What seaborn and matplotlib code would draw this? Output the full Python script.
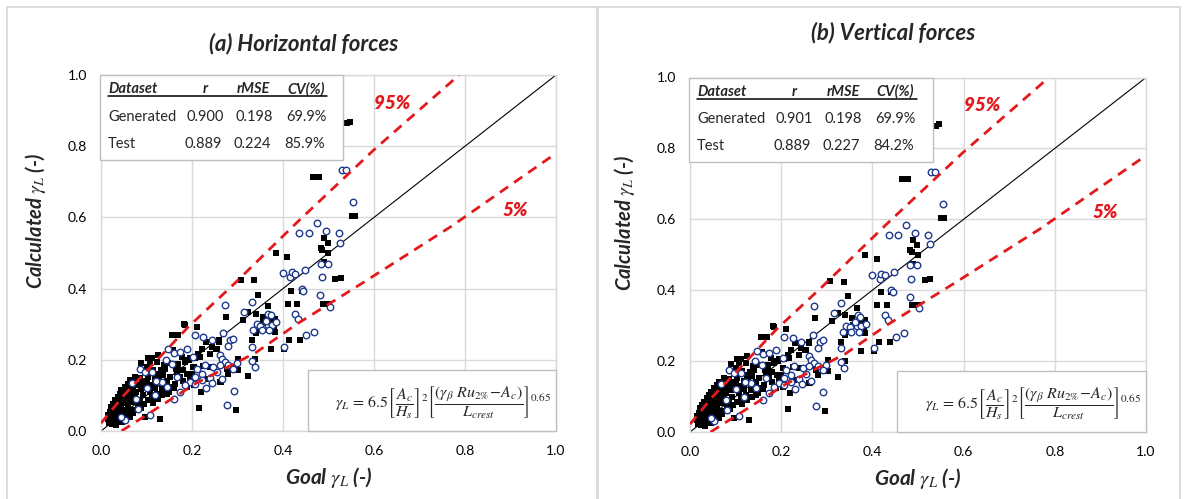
import matplotlib
matplotlib.use("Agg")
import matplotlib.pyplot as plt
from matplotlib.patches import Rectangle
import seaborn as sns

# ---------------------------------------------------------------------------
# Data: goal vs. calculated gamma_L
# ---------------------------------------------------------------------------
gen_points = [
    (0.540, 0.864), (0.547, 0.869), (0.466, 0.714), (0.479, 0.714),
    (0.551, 0.604), (0.558, 0.604), (0.384, 0.500), (0.409, 0.489),
    (0.490, 0.541), (0.498, 0.527), (0.483, 0.513), (0.486, 0.508),
    (0.499, 0.499), (0.490, 0.475), (0.515, 0.428), (0.527, 0.431),
    (0.307, 0.425), (0.337, 0.424), (0.346, 0.383), (0.410, 0.358),
    (0.431, 0.358), (0.487, 0.358), (0.501, 0.358), (0.418, 0.394),
    (0.441, 0.394), (0.274, 0.321), (0.312, 0.313), (0.324, 0.335),
    (0.341, 0.330), (0.356, 0.321), (0.366, 0.351), (0.372, 0.311),
    (0.383, 0.316), (0.357, 0.302), (0.381, 0.292), (0.350, 0.285),
    (0.383, 0.278), (0.341, 0.274), (0.331, 0.255), (0.374, 0.229),
    (0.414, 0.255), (0.438, 0.255), (0.403, 0.229), (0.185, 0.297),
    (0.210, 0.291), (0.155, 0.269), (0.169, 0.269), (0.221, 0.231),
    (0.231, 0.250), (0.243, 0.236), (0.254, 0.231), (0.260, 0.255),
    (0.214, 0.217), (0.196, 0.206), (0.207, 0.206), (0.185, 0.199),
    (0.203, 0.180), (0.240, 0.180), (0.276, 0.180), (0.302, 0.203),
    (0.302, 0.171), (0.324, 0.154), (0.280, 0.161), (0.263, 0.138),
    (0.203, 0.142), (0.216, 0.065), (0.297, 0.060), (0.229, 0.147),
    (0.188, 0.124), (0.295, 0.180), (0.339, 0.201), (0.220, 0.110),
    (0.158, 0.227), (0.240, 0.217), (0.252, 0.231), (0.260, 0.250),
    (0.103, 0.206), (0.111, 0.206), (0.177, 0.208), (0.218, 0.208),
    (0.089, 0.191), (0.122, 0.194), (0.185, 0.194), (0.194, 0.199),
    (0.170, 0.189), (0.205, 0.180), (0.225, 0.182), (0.265, 0.185),
    (0.276, 0.175), (0.170, 0.180), (0.141, 0.175), (0.115, 0.171),
    (0.166, 0.166), (0.137, 0.157), (0.126, 0.161), (0.075, 0.152),
    (0.064, 0.142), (0.199, 0.161), (0.174, 0.152), (0.152, 0.152),
    (0.104, 0.152), (0.207, 0.142), (0.205, 0.128), (0.262, 0.138),
    (0.082, 0.128), (0.060, 0.133), (0.053, 0.124), (0.108, 0.110),
    (0.122, 0.105), (0.133, 0.119), (0.144, 0.105), (0.163, 0.133),
    (0.152, 0.124), (0.097, 0.138), (0.071, 0.124), (0.089, 0.119),
    (0.045, 0.114), (0.042, 0.105), (0.038, 0.096), (0.060, 0.100),
    (0.075, 0.096), (0.086, 0.086), (0.104, 0.086), (0.111, 0.096),
    (0.031, 0.086), (0.051, 0.082), (0.067, 0.082), (0.027, 0.077),
    (0.023, 0.067), (0.034, 0.063), (0.045, 0.072), (0.060, 0.067),
    (0.020, 0.053), (0.042, 0.053), (0.031, 0.049), (0.016, 0.044),
    (0.016, 0.035), (0.020, 0.030), (0.027, 0.025), (0.034, 0.030),
    (0.023, 0.037), (0.038, 0.039), (0.049, 0.035), (0.097, 0.039),
    (0.130, 0.035), (0.030, 0.058), (0.028, 0.040), (0.036, 0.072),
    (0.048, 0.090), (0.055, 0.110), (0.065, 0.115), (0.078, 0.110),
    (0.092, 0.100), (0.118, 0.120), (0.128, 0.140), (0.145, 0.140),
    (0.058, 0.078), (0.070, 0.105), (0.082, 0.070), (0.095, 0.075),
    (0.040, 0.080), (0.025, 0.020), (0.032, 0.018), (0.018, 0.022),
    (0.045, 0.045), (0.050, 0.060), (0.055, 0.095), (0.062, 0.090),
    (0.068, 0.095), (0.072, 0.140), (0.078, 0.130), (0.085, 0.150),
    (0.090, 0.140), (0.095, 0.128), (0.100, 0.140), (0.105, 0.125),
    (0.112, 0.130), (0.118, 0.145), (0.125, 0.150), (0.132, 0.170),
    (0.138, 0.185), (0.148, 0.190), (0.100, 0.180), (0.107, 0.195),
    (0.058, 0.050), (0.064, 0.055), (0.072, 0.060), (0.080, 0.085),
    (0.088, 0.065), (0.035, 0.045), (0.040, 0.060), (0.026, 0.050),
    (0.030, 0.035), (0.040, 0.025), (0.047, 0.025), (0.052, 0.040),
    (0.063, 0.040), (0.070, 0.050), (0.115, 0.080), (0.125, 0.090),
    (0.135, 0.100), (0.150, 0.110), (0.160, 0.120), (0.165, 0.175),
    (0.180, 0.170), (0.190, 0.160), (0.195, 0.145), (0.180, 0.140),
    (0.183, 0.300), (0.126, 0.213),
]

test_points = [
    (0.529, 0.733), (0.538, 0.733), (0.554, 0.644), (0.474, 0.585),
    (0.436, 0.555), (0.457, 0.555), (0.494, 0.562), (0.523, 0.555),
    (0.526, 0.529), (0.399, 0.444), (0.416, 0.433), (0.419, 0.447),
    (0.427, 0.442), (0.448, 0.452), (0.483, 0.470), (0.498, 0.470),
    (0.485, 0.433), (0.441, 0.400), (0.445, 0.394), (0.482, 0.381),
    (0.503, 0.349), (0.427, 0.330), (0.434, 0.316), (0.469, 0.278),
    (0.451, 0.269), (0.403, 0.236), (0.331, 0.363), (0.273, 0.355),
    (0.315, 0.335), (0.343, 0.300), (0.350, 0.296), (0.366, 0.298),
    (0.368, 0.330), (0.373, 0.325), (0.362, 0.310), (0.375, 0.298),
    (0.370, 0.283), (0.385, 0.306), (0.335, 0.283), (0.353, 0.283),
    (0.269, 0.274), (0.284, 0.255), (0.291, 0.259), (0.280, 0.238),
    (0.331, 0.236), (0.207, 0.269), (0.225, 0.264), (0.243, 0.255),
    (0.188, 0.231), (0.203, 0.208), (0.262, 0.213), (0.266, 0.203),
    (0.273, 0.194), (0.229, 0.185), (0.247, 0.180), (0.262, 0.185),
    (0.280, 0.185), (0.298, 0.190), (0.338, 0.180), (0.331, 0.198),
    (0.291, 0.175), (0.221, 0.161), (0.207, 0.152), (0.196, 0.138),
    (0.292, 0.112), (0.276, 0.072), (0.211, 0.175), (0.147, 0.229),
    (0.161, 0.219), (0.174, 0.222), (0.143, 0.199), (0.157, 0.189),
    (0.086, 0.175), (0.097, 0.166), (0.111, 0.166), (0.166, 0.152),
    (0.133, 0.138), (0.144, 0.124), (0.174, 0.110), (0.185, 0.128),
    (0.207, 0.133), (0.221, 0.142), (0.108, 0.044), (0.082, 0.063),
    (0.053, 0.030), (0.045, 0.039), (0.078, 0.091), (0.068, 0.135),
    (0.120, 0.140), (0.100, 0.120), (0.118, 0.100), (0.160, 0.090),
    (0.240, 0.150), (0.255, 0.165), (0.230, 0.120), (0.265, 0.145),
    (0.245, 0.135),
]

gen_x = [p[0] for p in gen_points]
gen_y = [p[1] for p in gen_points]
test_x = [p[0] for p in test_points]
test_y = [p[1] for p in test_points]

# Perfect-agreement line and the 95 % / 5 % bounds
line_x = [0.0, 1.0]
line_y = [0.0, 1.0]
upper_x = [0.000, 0.050, 0.100, 0.190, 0.290, 0.430, 0.600, 0.787]
upper_y = [0.022, 0.100, 0.168, 0.290, 0.410, 0.585, 0.790, 1.000]
lower_x = [0.045, 0.100, 0.210, 0.340, 0.430, 0.580, 0.770, 1.000]
lower_y = [0.000, 0.045, 0.135, 0.220, 0.300, 0.420, 0.575, 0.780]

panel_titles = ["(a) Horizontal forces", "(b) Vertical forces"]
stats_header = ["Dataset", "r", "rMSE", "CV(%)"]
stats_rows = [
    [["Generated", "0.900", "0.198", "69.9%"], ["Test", "0.889", "0.224", "85.9%"]],
    [["Generated", "0.901", "0.198", "69.9%"], ["Test", "0.889", "0.227", "84.2%"]],
]
ticks = [0.0, 0.2, 0.4, 0.6, 0.8, 1.0]
tick_labels = ["0.0", "0.2", "0.4", "0.6", "0.8", "1.0"]

# ---------------------------------------------------------------------------
sns.set_theme(style="white")
plt.rcParams["font.family"] = ["Lato", "DejaVu Sans"]
plt.rcParams["mathtext.fontset"] = "stix"

W, H = 1185, 499
fig = plt.figure(figsize=(W / 100, H / 100), dpi=100)
fig.patch.set_facecolor("white")

GRID = "#d9d9d9"
RED = "#e3191c"
NAVY = "#1f3a8c"
BOX = "#bfbfbf"

# panel frames
for x0, x1 in [(7, 597.5), (597.5, 1180)]:
    fig.add_artist(Rectangle((x0 / W, -0.05), (x1 - x0) / W, (H - 7) / H + 0.05,
                             transform=fig.transFigure, fill=False,
                             edgecolor=GRID, linewidth=1.3))

axes_px = [(101, 556, 75, 431), (690, 1146, 77.5, 432)]
title_pos = [(0.446, 1.087), (0.445, 1.127)]

formula = (r"$\gamma_L\, =\, 6.5{\left[\dfrac{A_c}{H_s}\right]}^{2}"
           r"{\left[\dfrac{(\gamma_\beta\ Ru_{2\%}\!-\!A_c)}{L_{crest}}\right]}^{0.65}$")

for i, (l, r, t, b) in enumerate(axes_px):
    ax = fig.add_axes([l / W, (H - b) / H, (r - l) / W, (b - t) / H])
    ax.set_xlim(0, 1)
    ax.set_ylim(0, 1)
    ax.set_xticks(ticks)
    ax.set_yticks(ticks)
    ax.set_xticklabels(tick_labels)
    ax.set_yticklabels(tick_labels)
    ax.tick_params(length=0, labelsize=10, pad=10, colors="#000000")
    ax.grid(True, color=GRID, linewidth=1.0)
    for s in ax.spines.values():
        s.set_color(GRID)
        s.set_linewidth(1.0)
    ax.set_axisbelow(True)

    sns.lineplot(x=line_x, y=line_y, ax=ax, color="black", linewidth=0.8,
                 sort=False, estimator=None, zorder=2)
    sns.scatterplot(x=gen_x, y=gen_y, ax=ax, marker="s", s=25, color="black",
                    edgecolor="black", linewidth=0, zorder=3)
    sns.scatterplot(x=test_x, y=test_y, ax=ax, marker="o", s=22, color="white",
                    edgecolor=NAVY, linewidth=1.0, zorder=4)
    for bx, by in [(upper_x, upper_y), (lower_x, lower_y)]:
        sns.lineplot(x=bx, y=by, ax=ax, color=RED, linewidth=2.0,
                     linestyle=(0, (3.6, 2.6)), sort=False, estimator=None,
                     zorder=5)

    ax.text(0.640, 0.921, "95%", transform=ax.transAxes, color=RED,
            fontsize=13.5, fontweight="heavy", fontstyle="italic",
            ha="center", va="center", zorder=6)
    ax.text(0.910, 0.620, "5%", transform=ax.transAxes, color=RED,
            fontsize=13.5, fontweight="heavy", fontstyle="italic",
            ha="center", va="center", zorder=6)

    # statistics box
    ax.add_patch(Rectangle((-0.002, 0.761), 0.534, 0.239, transform=ax.transAxes,
                           facecolor="white", edgecolor=BOX, linewidth=1.0,
                           zorder=7, clip_on=False))
    col_x = [0.0154, 0.229, 0.336, 0.451]
    hdr_y, row_ys = 0.960, [0.882, 0.806]
    for j, txt in enumerate(stats_header):
        ax.text(col_x[j], hdr_y, txt, transform=ax.transAxes,
                ha="left" if j == 0 else "center", va="center",
                fontsize=10.5, fontweight="bold", fontstyle="italic", zorder=8)
    ax.plot([0.0154, 0.497], [0.940, 0.940], transform=ax.transAxes,
            color="black", linewidth=1.1, zorder=8, clip_on=False)
    for row, ry in zip(stats_rows[i], row_ys):
        for j, txt in enumerate(row):
            ax.text(col_x[j] if j == 0 else col_x[j] - (0.004 if ry < 0.85 else 0),
                    ry, txt, transform=ax.transAxes,
                    ha="left" if j == 0 else "center", va="center",
                    fontsize=10.5, zorder=8)

    # formula box
    ax.add_patch(Rectangle((0.454, 0.0), 0.546, 0.171, transform=ax.transAxes,
                           facecolor="white", edgecolor=BOX, linewidth=1.0,
                           zorder=7, clip_on=False))
    ax.text(0.752, 0.080, formula, transform=ax.transAxes, ha="center",
            va="center", fontsize=11.5, zorder=8)

    ax.set_xlabel(r"Goal $\gamma_L$ (-)", fontsize=15, fontweight="bold",
                  fontstyle="italic")
    ax.set_ylabel(r"Calculated $\gamma_L$ (-)", fontsize=14.5,
                  fontweight="bold", fontstyle="italic")
    ax.xaxis.set_label_coords(0.5, -0.095)
    ax.yaxis.set_label_coords(-0.117, 0.59)
    ax.text(title_pos[i][0], title_pos[i][1], panel_titles[i],
            transform=ax.transAxes, ha="center", va="center", fontsize=16,
            fontweight="bold", fontstyle="italic")

fig.savefig("out.png", dpi=100, facecolor="white")
